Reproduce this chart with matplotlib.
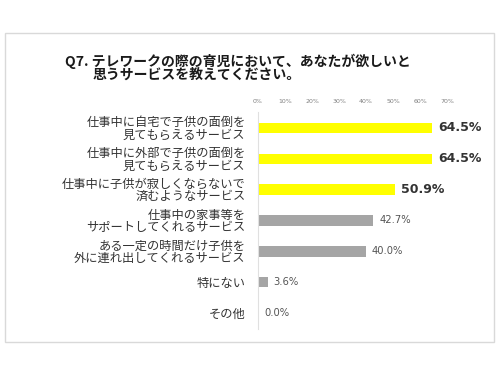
import matplotlib.pyplot as plt
from matplotlib.patches import Rectangle

plt.rcParams['font.family'] = ['Noto Sans CJK JP', 'DejaVu Sans']

# データ
labels = [
    "仕事中に自宅で子供の面倒を\n見てもらえるサービス",
    "仕事中に外部で子供の面倒を\n見てもらえるサービス",
    "仕事中に子供が寂しくならないで\n済むようなサービス",
    "仕事中の家事等を\nサポートしてくれるサービス",
    "ある一定の時間だけ子供を\n外に連れ出してくれるサービス",
    "特にない",
    "その他",
]
values = [64.5, 64.5, 50.9, 42.7, 40.0, 3.6, 0.0]
highlight = [True, True, True, False, False, False, False]
ticks = [0, 10, 20, 30, 40, 50, 60, 70]

fig = plt.figure(figsize=(5, 3.77), dpi=100)

# 外枠
fig.patches.append(Rectangle((5 / 500, 1 - 342 / 377), 489 / 500, 309 / 377,
                             transform=fig.transFigure, fill=False,
                             edgecolor="#D9D9D9", linewidth=1))

# タイトル
fig.text(65 / 500, 1 - 61 / 377, "Q7. テレワークの際の育児において、あなたが欲しいと",
         fontsize=10, fontweight="bold", color="#1a1a1a", va="center", ha="left")
fig.text(93 / 500, 1 - 75 / 377, "思うサービスを教えてください。",
         fontsize=10, fontweight="bold", color="#1a1a1a", va="center", ha="left")

ax = fig.add_axes([258 / 500, 1 - 328.5 / 377, 189 / 500, 216 / 377])
y = list(range(len(labels)))
colors = ["#FFFF00" if h else "#A5A5A5" for h in highlight]
ax.barh(y, values, height=0.34, color=colors)
ax.set_xlim(0, 70)
ax.set_ylim(len(labels) - 0.5, -0.5)

for i, (v, h) in enumerate(zip(values, highlight)):
    txt = f"{v:.1f}%"
    if h:
        ax.text(v + 2.2, i, txt, va="center", ha="left", fontsize=9,
                fontweight="bold", color="#333333", family="DejaVu Sans")
    else:
        ax.text(v + 2.2, i, txt, va="center", ha="left", fontsize=7.2,
                color="#555555", family="DejaVu Sans")

ax.set_yticks(y)
ax.set_yticklabels(labels, fontsize=8.8, color="#333333", linespacing=0.9)
ax.xaxis.tick_top()
ax.set_xticks(ticks)
ax.set_xticklabels([f"{t}%" for t in ticks], fontsize=4.5, color="#808080",
                   family="DejaVu Sans")
ax.tick_params(axis="both", length=0)
ax.tick_params(axis="y", pad=9)
ax.tick_params(axis="x", pad=6)
for s in ["top", "right", "bottom"]:
    ax.spines[s].set_visible(False)
ax.spines["left"].set_color("#E0E0E0")

fig.savefig("out.png", dpi=100)
